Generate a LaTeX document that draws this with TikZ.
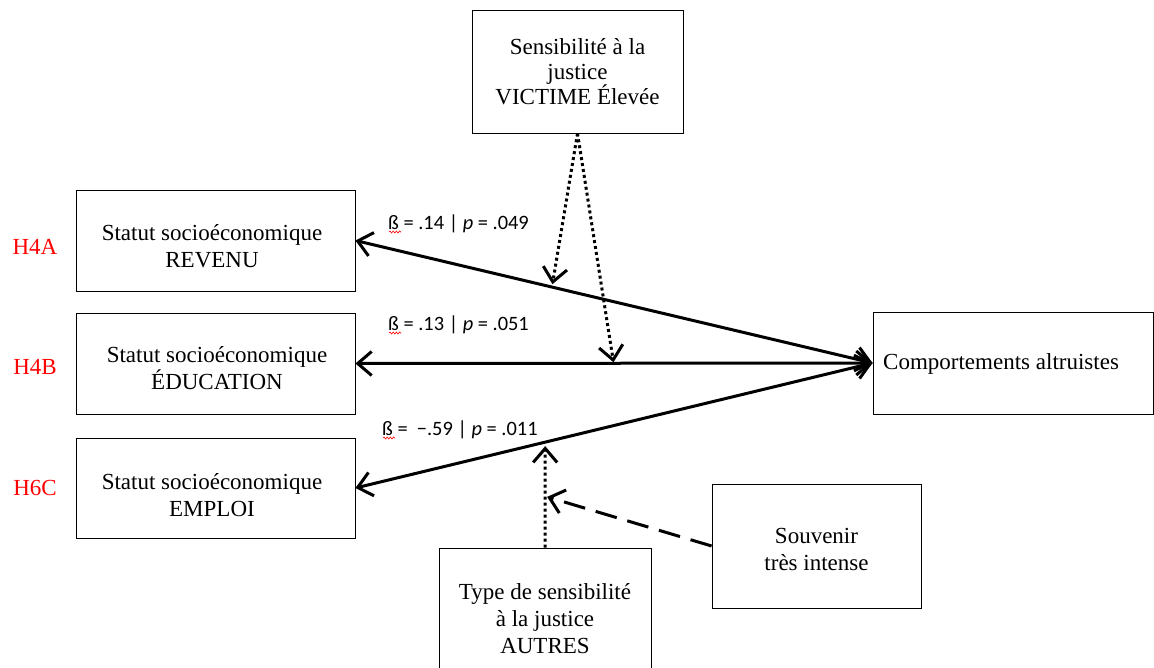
\documentclass[tikz,border=0pt]{standalone}
\usepackage{fontspec}
\setmainfont{Liberation Serif}
\newfontfamily\lblfont{Carlito}
\usetikzlibrary{arrows.meta,decorations.pathmorphing,calc}
\tikzset{
  box/.style={draw, line width=0.8pt, inner sep=0pt},
  txt/.style={align=center, inner sep=0pt, font=\fontsize{23}{27}\selectfont},
  hyp/.style={text=red, inner sep=0pt, font=\fontsize{23}{27}\selectfont},
  lbl/.style={inner sep=0pt, anchor=base west, font=\lblfont\fontsize{20.4}{24}\selectfont},
  barb/.tip={Straight Barb[length=14pt,width=24pt]},
  conn/.style={line width=3pt, barb-barb},
  dotarrow/.style={line width=3pt, line cap=butt, dash pattern=on 3pt off 3pt, -barb},
  dasharrow/.style={line width=3pt, line cap=butt, dash pattern=on 22pt off 11pt, -barb},
  squig/.style={red, line width=0.6pt, decorate,
    decoration={snake, segment length=3.2pt, amplitude=1pt}}
}
\begin{document}
\begin{tikzpicture}[x=1pt,y=-1pt]
\useasboundingbox (0,0) rectangle (1154,667);
% boxes
\node[box, minimum width=211pt, minimum height=123pt] (victime) at (577.5,71.5) {};
\node[txt, font=\fontsize{23}{25}\selectfont] (victime-t) at (577.5,72)
  {Sensibilité à la\\justice\\VICTIME Élevée};
\node[box, minimum width=279pt, minimum height=101pt] (revenu) at (215.5,240.5) {};
\node[txt] (revenu-t) at (212,246.5) {Statut socioéconomique\\REVENU};
\node[box, minimum width=279pt, minimum height=101pt] (educ) at (215.5,363.5) {};
\node[txt] (educ-t) at (217,368) {Statut socioéconomique\\ÉDUCATION};
\node[box, minimum width=279pt, minimum height=100pt] (emploi) at (215.5,488) {};
\node[txt] (emploi-t) at (212,495) {Statut socioéconomique\\EMPLOI};
\node[box, minimum width=280pt, minimum height=102pt] (comp) at (1013,363) {};
\node[txt, anchor=west] (comp-t) at (883,364) {Comportements altruistes};
\node[box, minimum width=212pt, minimum height=140pt] (type) at (545,618) {};
\node[txt] (type-t) at (545,619) {Type de sensibilité\\à la justice\\AUTRES};
\node[box, minimum width=209pt, minimum height=124pt] (souv) at (816.5,546) {};
\node[txt] (souv-t) at (816.5,549) {Souvenir\\très intense};
% hypothesis labels
\node[hyp] (h4a) at (35,247) {H4A};
\node[hyp] (h4b) at (35,367) {H4B};
\node[hyp] (h6c) at (35,488) {H6C};
% main connectors
\draw[conn] (revenu.east) -- (comp.west);
\draw[conn] (educ.east) -- (comp.west);
\draw[conn] (emploi.east) -- (comp.west);
% points on the connectors
\coordinate (r1) at ($(revenu.east)!0.381!(comp.west)+(0,-3)$);
\coordinate (e1) at ($(educ.east)!0.499!(comp.west)+(0,-1)$);
\coordinate (m1) at ($(emploi.east)!0.367!(comp.west)+(0,4)$);
\coordinate (m2) at ($(type.north)!0.5!(m1)+(2,0)$);
% moderators
\draw[dotarrow] (victime.south) -- (r1);
\draw[dotarrow] (victime.south) -- (e1);
\draw[dotarrow] (type.north) -- (m1);
\draw[dasharrow] (souv.west) -- (m2);
% coefficient labels
\node[lbl] (l1) at (388,229) {ß = .14 | \textit{p} = .049};
\node[lbl] (l2) at (388,330) {ß = .13 | \textit{p} = .051};
\node[lbl] (l3) at (382,435) {ß = \ −.59 | \textit{p} = .011};
\draw[squig] ($(l1.base west)+(1,3)$) -- ($(l1.base west)+(13,3)$);
\draw[squig] ($(l2.base west)+(1,3)$) -- ($(l2.base west)+(13,3)$);
\draw[squig] ($(l3.base west)+(1,3)$) -- ($(l3.base west)+(13,3)$);
\end{tikzpicture}
\end{document}
